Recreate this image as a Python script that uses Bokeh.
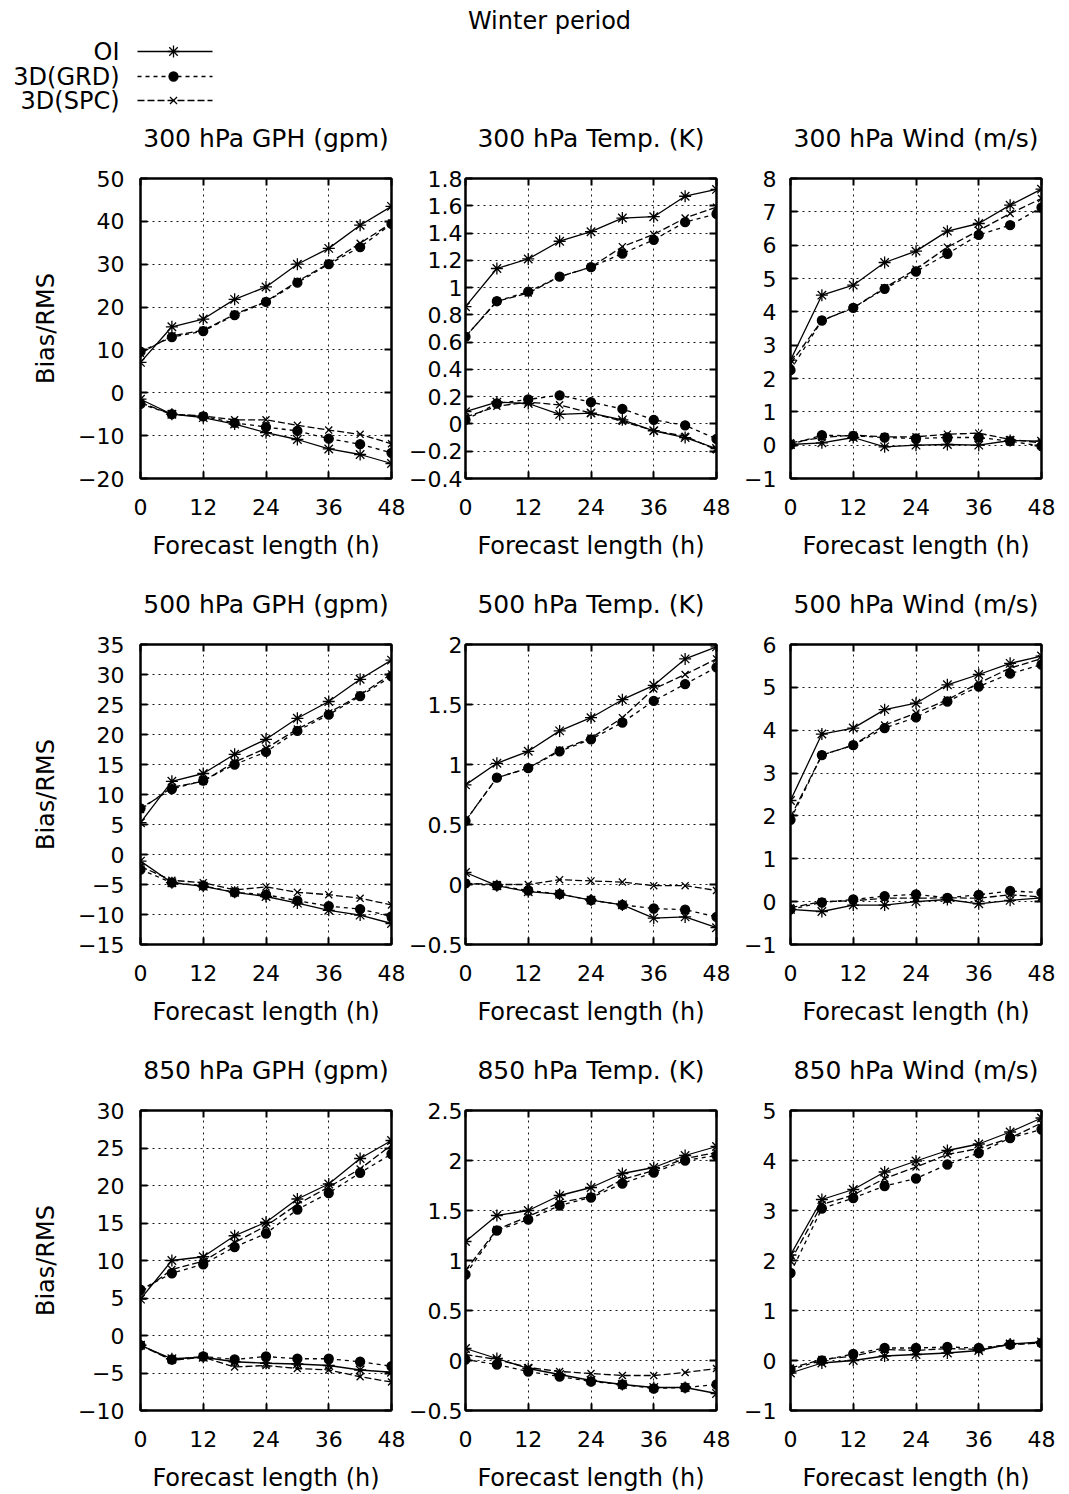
from bokeh.plotting import figure
from bokeh.layouts import column, row
from bokeh.models import Range1d, FixedTicker, LinearAxis, CustomJSTickFormatter
from bokeh.core.properties import value
from bokeh.embed import file_html
from bokeh.resources import INLINE

FONT = "DejaVu Sans"

# ---------------- data ----------------
main_title = "Winter period"
series_names = ["OI", "3D(GRD)", "3D(SPC)"]
x_label = "Forecast length (h)"
y_label = "Bias/RMS"

hours = [0, 6, 12, 18, 24, 30, 36, 42, 48]
x_ticks = [0, 12, 24, 36, 48]
x_tick_labels = ["0", "12", "24", "36", "48"]

panel_titles = [
    "300 hPa GPH (gpm)", "300 hPa Temp. (K)", "300 hPa Wind (m/s)",
    "500 hPa GPH (gpm)", "500 hPa Temp. (K)", "500 hPa Wind (m/s)",
    "850 hPa GPH (gpm)", "850 hPa Temp. (K)", "850 hPa Wind (m/s)",
]

# y ticks / labels per panel
y_ticks_gph300 = [-20, -10, 0, 10, 20, 30, 40, 50]
y_labels_gph300 = ["\u221220", "\u221210", "0", "10", "20", "30", "40", "50"]
y_ticks_t300 = [-0.4, -0.2, 0, 0.2, 0.4, 0.6, 0.8, 1.0, 1.2, 1.4, 1.6, 1.8]
y_labels_t300 = ["\u22120.4", "\u22120.2", "0", "0.2", "0.4", "0.6", "0.8", "1", "1.2", "1.4", "1.6", "1.8"]
y_ticks_w300 = [-1, 0, 1, 2, 3, 4, 5, 6, 7, 8]
y_labels_w300 = ["\u22121", "0", "1", "2", "3", "4", "5", "6", "7", "8"]
y_ticks_gph500 = [-15, -10, -5, 0, 5, 10, 15, 20, 25, 30, 35]
y_labels_gph500 = ["\u221215", "\u221210", "\u22125", "0", "5", "10", "15", "20", "25", "30", "35"]
y_ticks_t500 = [-0.5, 0, 0.5, 1.0, 1.5, 2.0]
y_labels_t500 = ["\u22120.5", "0", "0.5", "1", "1.5", "2"]
y_ticks_w500 = [-1, 0, 1, 2, 3, 4, 5, 6]
y_labels_w500 = ["\u22121", "0", "1", "2", "3", "4", "5", "6"]
y_ticks_gph850 = [-10, -5, 0, 5, 10, 15, 20, 25, 30]
y_labels_gph850 = ["\u221210", "\u22125", "0", "5", "10", "15", "20", "25", "30"]
y_ticks_t850 = [-0.5, 0, 0.5, 1.0, 1.5, 2.0, 2.5]
y_labels_t850 = ["\u22120.5", "0", "0.5", "1", "1.5", "2", "2.5"]
y_ticks_w850 = [-1, 0, 1, 2, 3, 4, 5]
y_labels_w850 = ["\u22121", "0", "1", "2", "3", "4", "5"]

# 300 hPa GPH
gph300_oi_rms = [7.1, 15.4, 17.2, 21.8, 24.7, 30.0, 33.7, 39.1, 43.5]
gph300_grd_rms = [9.6, 13.0, 14.4, 18.1, 21.2, 25.7, 30.0, 34.0, 39.4]
gph300_spc_rms = [9.2, 13.3, 14.6, 18.3, 21.3, 26.0, 30.2, 34.9, 39.6]
gph300_oi_bias = [-1.5, -5.0, -5.8, -7.3, -9.3, -10.9, -13.1, -14.4, -16.5]
gph300_grd_bias = [-2.6, -5.0, -5.5, -7.0, -8.0, -8.9, -10.7, -12.0, -14.0]
gph300_spc_bias = [-2.3, -5.0, -5.4, -6.3, -6.3, -7.6, -8.7, -9.7, -11.9]

# 300 hPa Temp
t300_oi_rms = [0.86, 1.14, 1.21, 1.34, 1.41, 1.51, 1.52, 1.67, 1.72]
t300_grd_rms = [0.64, 0.90, 0.97, 1.08, 1.15, 1.25, 1.35, 1.48, 1.54]
t300_spc_rms = [0.64, 0.90, 0.96, 1.08, 1.15, 1.30, 1.39, 1.51, 1.59]
t300_oi_bias = [0.09, 0.16, 0.15, 0.07, 0.08, 0.03, -0.05, -0.10, -0.18]
t300_grd_bias = [0.03, 0.15, 0.18, 0.21, 0.16, 0.11, 0.03, -0.01, -0.11]
t300_spc_bias = [0.05, 0.13, 0.16, 0.14, 0.08, 0.02, -0.05, -0.09, -0.19]

# 300 hPa Wind
w300_oi_rms = [2.55, 4.50, 4.80, 5.48, 5.82, 6.42, 6.65, 7.20, 7.68]
w300_grd_rms = [2.25, 3.74, 4.12, 4.69, 5.21, 5.74, 6.31, 6.60, 7.13]
w300_spc_rms = [2.45, 3.74, 4.12, 4.72, 5.28, 5.94, 6.44, 6.95, 7.40]
w300_oi_bias = [0.02, 0.07, 0.23, -0.05, 0.00, 0.02, 0.00, 0.14, 0.12]
w300_grd_bias = [0.02, 0.30, 0.28, 0.23, 0.20, 0.23, 0.23, 0.12, -0.03]
w300_spc_bias = [0.07, 0.23, 0.30, 0.25, 0.25, 0.33, 0.36, 0.17, 0.07]

# 500 hPa GPH
gph500_oi_rms = [5.3, 12.2, 13.5, 16.7, 19.2, 22.7, 25.5, 29.2, 32.4]
gph500_grd_rms = [7.7, 10.9, 12.3, 15.0, 17.1, 20.6, 23.3, 26.4, 29.7]
gph500_spc_rms = [7.5, 11.2, 12.2, 15.4, 17.7, 20.9, 23.6, 26.6, 30.1]
gph500_oi_bias = [-1.1, -4.7, -5.3, -6.3, -7.0, -8.1, -9.3, -10.1, -11.5]
gph500_grd_bias = [-2.5, -4.7, -5.2, -6.3, -6.7, -7.7, -8.6, -9.1, -10.3]
gph500_spc_bias = [-2.0, -4.3, -4.7, -5.9, -5.4, -6.3, -6.7, -7.3, -8.4]

# 500 hPa Temp
t500_oi_rms = [0.83, 1.01, 1.11, 1.28, 1.39, 1.54, 1.66, 1.88, 1.98]
t500_grd_rms = [0.53, 0.89, 0.97, 1.11, 1.21, 1.35, 1.53, 1.67, 1.81]
t500_spc_rms = [0.53, 0.89, 0.97, 1.12, 1.22, 1.39, 1.63, 1.75, 1.88]
t500_oi_bias = [0.10, -0.01, -0.06, -0.08, -0.13, -0.17, -0.28, -0.27, -0.36]
t500_grd_bias = [0.01, -0.01, -0.05, -0.08, -0.13, -0.17, -0.20, -0.21, -0.27]
t500_spc_bias = [0.01, 0.00, 0.00, 0.04, 0.03, 0.02, -0.01, -0.01, -0.05]

# 500 hPa Wind
w500_oi_rms = [2.36, 3.91, 4.05, 4.48, 4.63, 5.06, 5.30, 5.56, 5.73]
w500_grd_rms = [1.91, 3.42, 3.65, 4.05, 4.30, 4.67, 5.02, 5.32, 5.53]
w500_spc_rms = [1.97, 3.42, 3.65, 4.12, 4.40, 4.71, 5.10, 5.45, 5.67]
w500_oi_bias = [-0.18, -0.23, -0.08, -0.08, 0.00, 0.05, -0.05, 0.03, 0.09]
w500_grd_bias = [-0.18, -0.02, 0.05, 0.13, 0.17, 0.09, 0.16, 0.25, 0.21]
w500_spc_bias = [-0.14, 0.00, 0.02, 0.08, 0.08, 0.09, 0.08, 0.16, 0.11]

# 850 hPa GPH
gph850_oi_rms = [4.85, 10.0, 10.5, 13.3, 15.1, 18.2, 20.2, 23.6, 26.0]
gph850_grd_rms = [6.1, 8.3, 9.5, 11.8, 13.6, 16.8, 19.0, 21.7, 24.2]
gph850_spc_rms = [5.7, 8.8, 9.9, 12.4, 14.6, 17.5, 19.8, 22.2, 25.4]
gph850_oi_bias = [-1.3, -3.1, -2.9, -3.5, -3.7, -3.8, -4.0, -4.6, -4.9]
gph850_grd_bias = [-1.3, -3.2, -2.8, -3.2, -2.8, -3.1, -3.1, -3.5, -4.1]
gph850_spc_bias = [-1.3, -3.3, -2.9, -4.2, -4.0, -4.4, -4.6, -5.5, -6.2]

# 850 hPa Temp
t850_oi_rms = [1.19, 1.45, 1.50, 1.65, 1.73, 1.87, 1.93, 2.05, 2.14]
t850_grd_rms = [0.86, 1.30, 1.41, 1.55, 1.63, 1.77, 1.88, 2.00, 2.05]
t850_spc_rms = [0.90, 1.31, 1.44, 1.58, 1.64, 1.81, 1.90, 2.02, 2.08]
t850_oi_bias = [0.12, 0.02, -0.08, -0.14, -0.20, -0.24, -0.27, -0.27, -0.33]
t850_grd_bias = [0.01, -0.04, -0.11, -0.16, -0.21, -0.24, -0.28, -0.27, -0.24]
t850_spc_bias = [0.06, 0.01, -0.07, -0.11, -0.13, -0.15, -0.15, -0.12, -0.08]

# 850 hPa Wind
w850_oi_rms = [2.11, 3.22, 3.42, 3.77, 3.99, 4.20, 4.33, 4.57, 4.85]
w850_grd_rms = [1.75, 3.04, 3.25, 3.49, 3.64, 3.92, 4.15, 4.45, 4.62]
w850_spc_rms = [1.99, 3.12, 3.31, 3.64, 3.87, 4.12, 4.24, 4.45, 4.75]
w850_oi_bias = [-0.25, -0.05, 0.00, 0.09, 0.12, 0.15, 0.20, 0.33, 0.37]
w850_grd_bias = [-0.18, 0.00, 0.13, 0.25, 0.25, 0.27, 0.25, 0.32, 0.35]
w850_spc_bias = [-0.15, 0.02, 0.09, 0.22, 0.20, 0.24, 0.22, 0.32, 0.35]

panels = [
    (y_ticks_gph300, y_labels_gph300, [gph300_oi_rms, gph300_grd_rms, gph300_spc_rms], [gph300_oi_bias, gph300_grd_bias, gph300_spc_bias]),
    (y_ticks_t300, y_labels_t300, [t300_oi_rms, t300_grd_rms, t300_spc_rms], [t300_oi_bias, t300_grd_bias, t300_spc_bias]),
    (y_ticks_w300, y_labels_w300, [w300_oi_rms, w300_grd_rms, w300_spc_rms], [w300_oi_bias, w300_grd_bias, w300_spc_bias]),
    (y_ticks_gph500, y_labels_gph500, [gph500_oi_rms, gph500_grd_rms, gph500_spc_rms], [gph500_oi_bias, gph500_grd_bias, gph500_spc_bias]),
    (y_ticks_t500, y_labels_t500, [t500_oi_rms, t500_grd_rms, t500_spc_rms], [t500_oi_bias, t500_grd_bias, t500_spc_bias]),
    (y_ticks_w500, y_labels_w500, [w500_oi_rms, w500_grd_rms, w500_spc_rms], [w500_oi_bias, w500_grd_bias, w500_spc_bias]),
    (y_ticks_gph850, y_labels_gph850, [gph850_oi_rms, gph850_grd_rms, gph850_spc_rms], [gph850_oi_bias, gph850_grd_bias, gph850_spc_bias]),
    (y_ticks_t850, y_labels_t850, [t850_oi_rms, t850_grd_rms, t850_spc_rms], [t850_oi_bias, t850_grd_bias, t850_spc_bias]),
    (y_ticks_w850, y_labels_w850, [w850_oi_rms, w850_grd_rms, w850_spc_rms], [w850_oi_bias, w850_grd_bias, w850_spc_bias]),
]

# ---------------- styles ----------------
STYLES = [
    dict(dash="solid", marker="asterisk", size=12),
    dict(dash="4 4", marker="circle", size=9),
    dict(dash="7 3", marker="x", size=10),
]
TICK_FS = "22px"
LABEL_FS = "24px"
TITLE_FS = "25px"

FRAME_W, FRAME_H = 251, 300
COL_LEFT = [140, 60, 54]
COL_RIGHT = [14, 20, 16]
COL_STANDOFF = [16, 3, 14]
TOP_BORDER = 62


def label_formatter(ticks, labels):
    return CustomJSTickFormatter(
        args=dict(tv=ticks, tl=labels),
        code="const i = tv.findIndex(t => Math.abs(t - tick) < 1e-6); return i >= 0 ? tl[i] : '';",
    )


def style_axis(ax, standoff):
    ax.axis_line_color = "black"
    ax.axis_line_width = 2
    ax.major_tick_in = 7
    ax.major_tick_out = 0
    ax.major_tick_line_width = 2
    ax.major_tick_line_color = "black"
    ax.minor_tick_line_color = None
    ax.major_label_text_font = FONT
    ax.major_label_text_font_size = TICK_FS
    ax.major_label_text_color = "black"
    ax.major_label_standoff = standoff
    ax.axis_label_text_font = FONT
    ax.axis_label_text_font_size = LABEL_FS
    ax.axis_label_text_font_style = "normal"
    ax.axis_label_text_color = "black"


def make_panel(idx):
    yt, yl, rms, bias = panels[idx]
    col = idx % 3
    r = idx // 3
    p = figure(
        frame_width=FRAME_W, frame_height=FRAME_H,
        min_border_left=COL_LEFT[col], min_border_right=COL_RIGHT[col],
        min_border_top=TOP_BORDER, min_border_bottom=(80 if r == 2 else 104),
        x_range=Range1d(0, 48), y_range=Range1d(yt[0], yt[-1]),
        output_backend="svg", toolbar_location=None,
    )
    p.outline_line_color = "black"
    p.outline_line_width = 2
    p.background_fill_color = "white"
    p.border_fill_color = "white"

    # main axes
    p.xaxis.ticker = FixedTicker(ticks=x_ticks)
    p.xaxis.formatter = label_formatter(x_ticks, x_tick_labels)
    p.yaxis.ticker = FixedTicker(ticks=yt)
    p.yaxis.formatter = label_formatter(yt, yl)
    style_axis(p.xaxis[0], 20)
    style_axis(p.yaxis[0], COL_STANDOFF[col])
    p.xaxis.axis_label = x_label
    p.xaxis.axis_label_standoff = 14
    if col == 0:
        p.yaxis.axis_label = y_label
        p.yaxis.axis_label_standoff = 15

    # mirror axes (ticks only); the top one carries the panel title
    top = LinearAxis(ticker=FixedTicker(ticks=x_ticks))
    right = LinearAxis(ticker=FixedTicker(ticks=yt))
    for ax in (top, right):
        style_axis(ax, 0)
        ax.major_label_text_font_size = "0px"
        ax.major_label_text_alpha = 0
    top.axis_label = panel_titles[idx]
    top.axis_label_text_font_size = TITLE_FS
    top.axis_label_standoff = 26
    p.add_layout(top, "above")
    p.add_layout(right, "right")

    # grid
    p.xgrid.ticker = FixedTicker(ticks=x_ticks)
    p.ygrid.ticker = FixedTicker(ticks=yt)
    p.grid.grid_line_color = "black"
    p.grid.grid_line_dash = "2 4"
    p.grid.grid_line_width = 1
    p.grid.grid_line_alpha = 0.9

    for series in (rms, bias):
        for k, vals in enumerate(series):
            st = STYLES[k]
            p.line(hours, vals, line_color="black", line_width=1.3, line_dash=st["dash"])
            p.scatter(hours, vals, marker=st["marker"], size=st["size"],
                      line_color="black", fill_color="black", line_width=1.3)
    return p


# ---------------- header with title and legend ----------------
HDR_W, HDR_H = 1060, 116
hdr = figure(width=HDR_W, height=HDR_H, x_range=Range1d(0, HDR_W), y_range=Range1d(HDR_H, 0),
             x_axis_type=None, y_axis_type=None, output_backend="svg", toolbar_location=None,
             min_border=0)
hdr.grid.visible = False
hdr.outline_line_color = None
hdr.text(x=[549], y=[20], text=[main_title], text_align="center", text_baseline="middle",
         text_font=value(FONT), text_font_size="24px", text_color="black")
leg_y = [51, 76, 100]
for k, name in enumerate(series_names):
    st = STYLES[k]
    y = leg_y[k]
    hdr.text(x=[119], y=[y], text=[name], text_align="right", text_baseline="middle",
             text_font=value(FONT), text_font_size="24px", text_color="black")
    hdr.line([137, 212], [y, y], line_color="black", line_width=1.3, line_dash=st["dash"])
    hdr.scatter([173], [y], marker=st["marker"], size=st["size"], line_color="black",
                fill_color="black", line_width=1.3)

figs = [make_panel(i) for i in range(9)]
layout = column(hdr, row(*figs[0:3]), row(*figs[3:6]), row(*figs[6:9]))

open("out.html", "w").write(file_html(layout, INLINE))
